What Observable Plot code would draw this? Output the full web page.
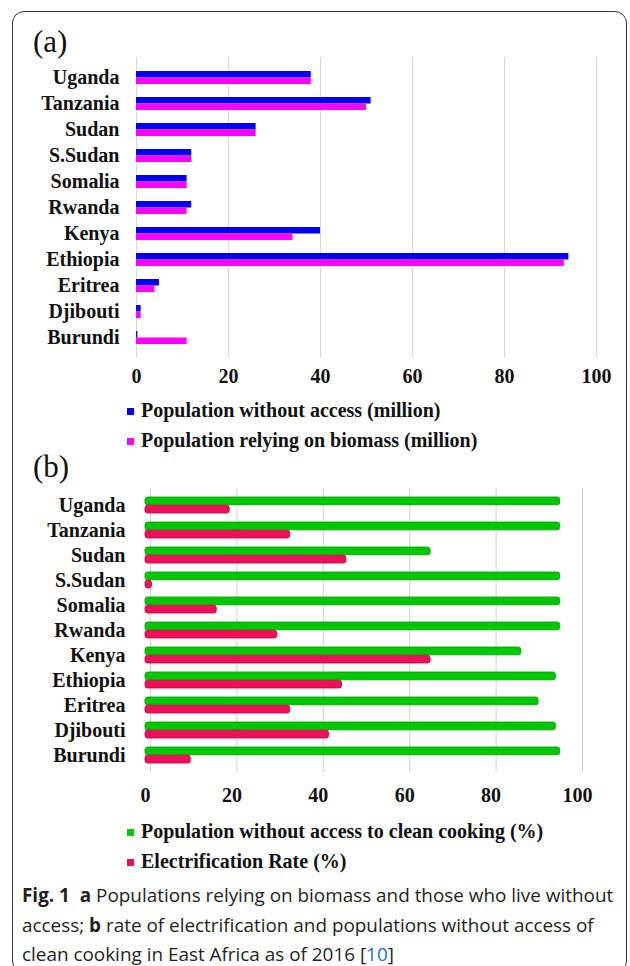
<!DOCTYPE html>
<html><head><meta charset="utf-8">
<script src="https://cdn.jsdelivr.net/npm/d3@7"></script>
<script src="https://cdn.jsdelivr.net/npm/@observablehq/plot@0.6"></script>
<style>
body{margin:0;background:#fff;}
#page{position:relative;width:630px;height:966px;overflow:hidden;background:#fff;}
.frame{position:absolute;left:12px;top:11px;width:615px;height:962px;border:1px solid #333;border-radius:12px;box-sizing:border-box;}
.panel{position:absolute;font-family:"Liberation Serif",serif;font-size:31px;color:#111;line-height:1;}
.plot{position:absolute;left:0;}
.legend{position:absolute;left:127px;font-family:"Liberation Serif",serif;font-weight:bold;font-size:20px;color:#111;}
.legend div{height:30px;line-height:30px;white-space:nowrap}
.sw{display:inline-block;width:7px;height:7px;margin-right:7px;vertical-align:middle;position:relative;top:-1px}
.caption{position:absolute;left:22px;top:881px;width:600px;font-family:"Open Sans",sans-serif;font-size:18.9px;line-height:29.5px;color:#231f20;white-space:nowrap}
.caption b{font-weight:bold}
.ref{color:#1f6fc0}
</style></head>
<body><div id="page">
<div class="frame"></div>
<div class="panel" style="left:33px;top:26px">(a)</div>
<div class="plot" id="pa" style="top:0px"></div>
<div class="legend" id="la" style="top:395px"></div>
<div class="panel" style="left:33px;top:451px">(b)</div>
<div class="plot" id="pb" style="top:470px"></div>
<div class="legend" id="lb" style="top:816px"></div>
<div class="caption"><b>Fig. 1</b>&nbsp;&nbsp;<b>a</b> Populations relying on biomass and those who live without<br>access; <b>b</b> rate of electrification and populations without access of<br>clean cooking in East Africa as of 2016 [<span class="ref">10</span>]</div>
</div>
<script>
const countries = ["Uganda","Tanzania","Sudan","S.Sudan","Somalia","Rwanda","Kenya","Ethiopia","Eritrea","Djibouti","Burundi"];
const withoutAccess = [38,51,26,12,11,12,40,94,5,1,0.3];
const biomass = [38,50,26,12,11,11,34,93,4,1,11];
const noCleanCooking = [96,96,66,96,96,96,87,95,91,95,96];
const electrification = [19.5,33.5,46.5,1.5,16.5,30.5,66,45.5,33.5,42.5,10.5];
const xTicks = [0,20,40,60,80,100];
const seriesA = ["Population without access (million)","Population relying on biomass (million)"];
const seriesB = ["Population without access to clean cooking (%)","Electrification Rate (%)"];
const colorsA = ["#0000f0","#ff00ff"];
const colorsB = ["#00c800","#f0105a"];
const strokesB = ["#009a00","#c0003e"];

const dataA = countries.map((c,i)=>({country:c, a:withoutAccess[i], b:biomass[i]}));
const dataB = countries.map((c,i)=>({country:c, a:noCleanCooking[i], b:electrification[i]}));

const font = {fontFamily:"Liberation Serif, serif", fontSize:"20px", fontWeight:"bold", color:"#111", background:"transparent"};

const pa = Plot.plot({
  width:630, height:390, marginLeft:136, marginRight:34, marginTop:57, marginBottom:33,
  style:font,
  x:{domain:[0,100], ticks:xTicks, label:null, tickSize:0, tickPadding:11},
  y:{domain:countries, padding:0.5, label:null, tickSize:0, tickPadding:17},
  marks:[
    Plot.gridX(xTicks,{stroke:"#d6d6d6", strokeOpacity:1}),
    Plot.barX(dataA,{y:"country", x:"a", fill:colorsA[0], insetBottom:6.5}),
    Plot.barX(dataA,{y:"country", x:"b", fill:colorsA[1], insetTop:6.5})
  ]
});
document.getElementById("pa").appendChild(pa);

const pb = Plot.plot({
  width:630, height:340, marginLeft:145, marginRight:53, marginTop:18, marginBottom:38,
  style:font,
  x:{domain:[0,100], ticks:xTicks, label:null, tickSize:0, tickPadding:15},
  y:{domain:countries, padding:0.34, label:null, tickSize:0, tickPadding:20},
  marks:[
    Plot.gridX(xTicks,{stroke:"#d0d0d0", strokeOpacity:1, dx:5}),
    Plot.barX(dataB,{y:"country", x:"a", fill:colorsB[0], stroke:strokesB[0], strokeWidth:0.8, rx:2.5, insetBottom:8.2}),
    Plot.barX(dataB,{y:"country", x:"b", fill:colorsB[1], stroke:strokesB[1], strokeWidth:0.8, rx:2.5, insetTop:8.2})
  ]
});
document.getElementById("pb").appendChild(pb);

function legend(el, names, colors){
  const root = document.getElementById(el);
  names.forEach((n,i)=>{
    const d = document.createElement("div");
    const s = document.createElement("span");
    s.className="sw"; s.style.background=colors[i];
    d.appendChild(s);
    d.appendChild(document.createTextNode(n));
    root.appendChild(d);
  });
}
legend("la", seriesA, colorsA);
legend("lb", seriesB, colorsB);
</script>
</body></html>
